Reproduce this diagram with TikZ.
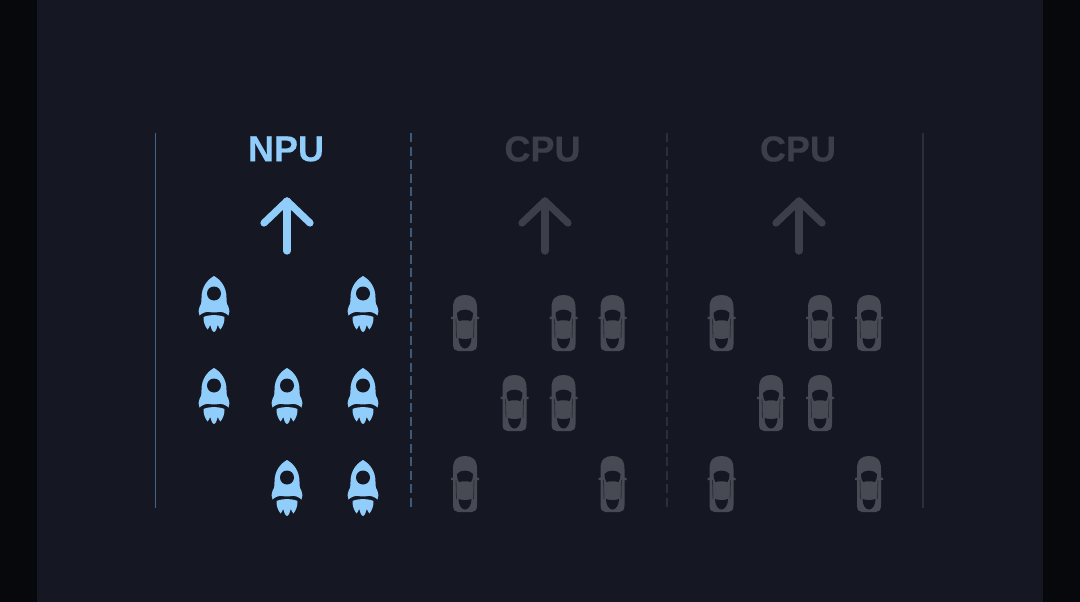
\documentclass[tikz,border=0pt]{standalone}
\usepackage{fontspec}
\setmainfont[BoldFeatures={FakeBold=0.4}]{Liberation Sans}
\definecolor{bgc}{HTML}{151823}
\definecolor{sidec}{HTML}{07080B}
\definecolor{bluec}{HTML}{90CDFB}
\definecolor{carc}{HTML}{474953}
\definecolor{greyc}{HTML}{3C3F49}
\definecolor{lineblue}{HTML}{46648A}
\definecolor{linedash}{HTML}{3E5878}
\definecolor{linedark}{HTML}{2C2F3B}
\tikzset{
  x=1pt,y=-1pt,
  title/.style={font=\fontsize{36}{36}\selectfont\bfseries,inner sep=0pt,anchor=center},
  uparrow/.style={line width=7.2pt,line cap=round,line join=round},
  rocket/.pic={
    \fill[bluec] (0,0) .. controls (7,4) and (12.5,11) .. (12.5,22)
      .. controls (12.5,27) and (13,29) .. (14.5,31)
      .. controls (15.8,33.5) and (15.8,37) .. (14.5,39.5)
      .. controls (12,37) and (8,35.5) .. (5,36)
      .. controls (2,36.5) and (-2,36.5) .. (-5,36)
      .. controls (-8,35.5) and (-12,37) .. (-14.5,39.5)
      .. controls (-15.8,37) and (-15.8,33.5) .. (-14.5,31)
      .. controls (-13,29) and (-12.5,27) .. (-12.5,22)
      .. controls (-12.5,11) and (-7,4) .. (0,0) -- cycle;
    \fill[bgc] (0,17.5) circle[radius=7];
    \fill[bluec] (-10.5,41) .. controls (-6,39) and (-3,39.5) .. (0,39)
      .. controls (3,39.5) and (6,39) .. (10.5,41)
      .. controls (10.5,47) and (9,50) .. (6.5,53.5)
      .. controls (5.5,52.5) and (4.5,51) .. (3.8,49)
      .. controls (3.3,52) and (1.5,56) .. (0,56)
      .. controls (-1.5,56) and (-3.3,52) .. (-3.8,49)
      .. controls (-4.5,51) and (-5.5,52.5) .. (-6.5,53.5)
      .. controls (-9,50) and (-10.5,47) .. (-10.5,41) -- cycle;
  },
  car/.pic={
    \fill[carc] (-12,13) .. controls (-12,3) and (-7,0) .. (0,0)
      .. controls (7,0) and (12,3) .. (12,13)
      -- (12,49) .. controls (12,54) and (10,56) .. (7,56)
      -- (-7,56) .. controls (-10,56) and (-12,54) .. (-12,49) -- cycle;
    \fill[carc] (-14,22) -- (-10,21) -- (-10,24) -- (-14,24) -- cycle;
    \fill[carc] (14,22) -- (10,21) -- (10,24) -- (14,24) -- cycle;
    \fill[bgc] (-8,18) .. controls (-5,13.5) and (5,13.5) .. (8,18)
      .. controls (8.5,21) and (7,24) .. (6,26)
      .. controls (2,25) and (-2,25) .. (-6,26)
      .. controls (-7,24) and (-8.5,21) .. (-8,18) -- cycle;
    \fill[bgc] (-6.5,43) .. controls (-2,44.5) and (2,44.5) .. (6.5,43)
      .. controls (6.5,49) and (3.5,53.5) .. (0,53.5)
      .. controls (-3.5,53.5) and (-6.5,49) .. (-6.5,43) -- cycle;
    \draw[bgc!60!carc,line width=.8pt] (-9,24) -- (-8.5,43);
    \draw[bgc!60!carc,line width=.8pt] (9,24) -- (8.5,43);
  }
}
\begin{document}
\begin{tikzpicture}
\useasboundingbox (0,0) rectangle (1080,602);
\fill[sidec] (0,0) rectangle (1080,602);
\fill[bgc] (37,0) rectangle (1043,602);
% dividers
\coordinate (l1a) at (155.5,133); \coordinate (l1b) at (155.5,508);
\coordinate (l2a) at (411,133); \coordinate (l2b) at (411,508);
\coordinate (l3a) at (667,133); \coordinate (l3b) at (667,508);
\coordinate (l4a) at (923,133); \coordinate (l4b) at (923,508);
\draw[lineblue,line width=1.5pt] (l1a) -- (l1b);
\draw[linedash,line width=1.5pt,dash pattern=on 9pt off 4.5pt] (l2a) -- (l2b);
\draw[linedark,line width=1.5pt,dash pattern=on 9pt off 4.5pt] (l3a) -- (l3b);
\draw[linedark,line width=1.5pt] (l4a) -- (l4b);
% titles
\node[title,text=bluec] (npu) at (286,149) {NPU};
\node[title,text=greyc] (cpua) at (542.5,149) {CPU};
\node[title,text=greyc] (cpub) at (798,149) {CPU};
% arrows
\foreach \ax/\col in {287/bluec,545/greyc,799/greyc}{
  \draw[uparrow,\col] (\ax,251) -- (\ax,201);
  \draw[uparrow,\col] (\ax-23,223) -- (\ax,201) -- (\ax+23,223);
}
% rockets
\foreach \rx/\ry in {214/276,363/276,214/368,287/368,363/368,287/460,363/460}{
  \pic at (\rx,\ry) {rocket};
}
% cars
\foreach \cx/\cy in {465/295,563.5/295,612.5/295,514.5/375,563.5/375,465/456,612.5/456,
                     721.5/295,820/295,869/295,771/375,820/375,721.5/456,869/456}{
  \pic at (\cx,\cy) {car};
}
\end{tikzpicture}
\end{document}
